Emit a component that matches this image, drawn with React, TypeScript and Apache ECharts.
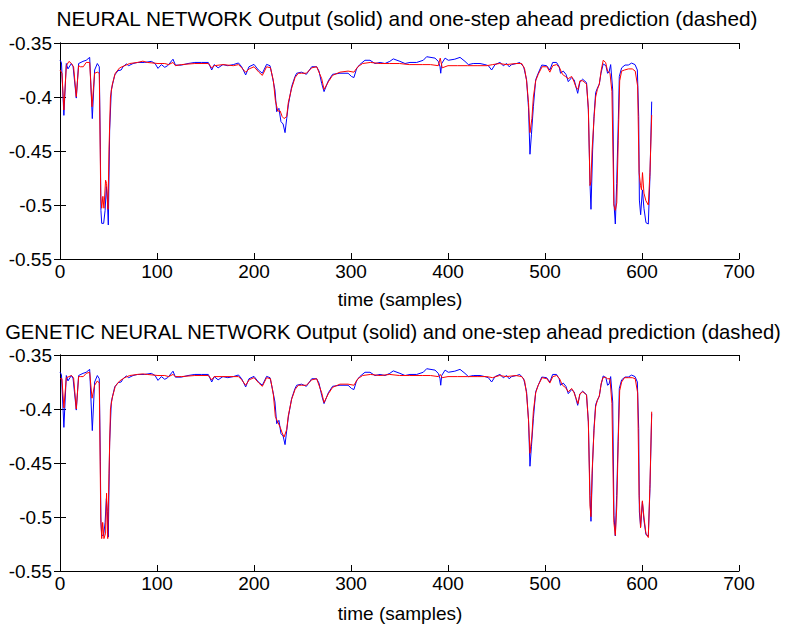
import { useEffect, useRef } from 'react';
import * as echarts from 'echarts';

const titleTop = 'NEURAL NETWORK Output (solid) and one-step ahead prediction (dashed)';
const titleBottom = 'GENETIC NEURAL NETWORK Output (solid) and one-step ahead prediction (dashed)';
const xAxisLabel = 'time (samples)';

const xMin = 0;
const xMax = 700;
const xStep = 100;
const yMin = -0.55;
const yMax = -0.35;
const yStep = 0.05;

// measured output (solid, blue) – same in both panels
const outputSeries: [number, number][] = [
  [0, -0.366], [1.5, -0.368], [4, -0.417], [6.5, -0.369], [8.2, -0.374], [11.7, -0.369], [13.5, -0.372],
  [16.8, -0.401], [19.2, -0.369], [23.7, -0.367], [27, -0.366], [30.6, -0.3633], [33.3, -0.42], [35.7, -0.375],
  [38.5, -0.369], [40.5, -0.372], [41.6, -0.449], [42.2, -0.505], [43, -0.517], [45, -0.517], [46.5, -0.505],
  [47.8, -0.483], [48.8, -0.495], [49.8, -0.5185], [51.2, -0.4306], [52.9, -0.3935], [56.4, -0.3796],
  [59.8, -0.3756], [63, -0.375], [65, -0.372], [68.4, -0.3694], [70.8, -0.371], [75.3, -0.369], [80, -0.368],
  [87.3, -0.368], [94.2, -0.367], [98, -0.369], [101, -0.3735], [104.5, -0.37], [108, -0.3725], [111, -0.371],
  [116.5, -0.365], [119, -0.3705], [125, -0.3705], [132, -0.369], [139, -0.368], [146, -0.368], [152.9, -0.368],
  [156.4, -0.375], [159, -0.37], [163, -0.373], [168, -0.37], [173, -0.371], [178.7, -0.37], [184, -0.3685],
  [187.3, -0.372], [191.4, -0.3796], [194.8, -0.372], [200, -0.3698], [204.5, -0.375], [208.6, -0.378],
  [213, -0.3698], [216.5, -0.371], [218.9, -0.381], [221.6, -0.3935], [223.4, -0.4136], [225.7, -0.4105],
  [227.8, -0.4228], [230, -0.425], [232, -0.433], [233.7, -0.42], [235.4, -0.4074], [238.8, -0.3904],
  [242.3, -0.381], [244, -0.378], [249, -0.377], [254, -0.379], [259.5, -0.372], [264.6, -0.372], [267, -0.376],
  [269.8, -0.3875], [272.2, -0.395], [276.6, -0.385], [281, -0.379], [288.6, -0.378], [297, -0.378],
  [300.5, -0.381], [303, -0.382], [305.7, -0.374], [309, -0.37], [314.4, -0.366], [319.6, -0.366],
  [324.7, -0.369], [330, -0.368], [335, -0.369], [340, -0.367], [343.6, -0.3647], [350.5, -0.367],
  [355.7, -0.369], [360.8, -0.368], [367.7, -0.368], [374.5, -0.366], [378, -0.3627], [386.6, -0.364],
  [390, -0.367], [391.8, -0.372], [392.5, -0.378], [393.5, -0.369], [397, -0.364], [400.3, -0.366],
  [407, -0.365], [412.4, -0.3633], [417.5, -0.367], [421, -0.37], [426, -0.369], [433, -0.369], [438, -0.37],
  [441.6, -0.371], [445, -0.375], [448.5, -0.37], [453.6, -0.368], [457, -0.371], [460.5, -0.369],
  [463, -0.372], [465.6, -0.37], [470.7, -0.369], [474, -0.368], [478, -0.372], [481, -0.384], [483, -0.41],
  [484.5, -0.453], [486, -0.435], [488, -0.409], [490.4, -0.384], [493, -0.378], [496.7, -0.3704],
  [501.7, -0.371], [505, -0.375], [507.9, -0.368], [511.9, -0.368], [514.6, -0.372], [516, -0.378],
  [518.8, -0.376], [521.6, -0.379], [524, -0.3858], [527.5, -0.382], [530, -0.384], [531.9, -0.3904],
  [533.7, -0.3966], [536, -0.386], [538.8, -0.3835], [542.8, -0.3867], [544.7, -0.412], [546.4, -0.48],
  [547.4, -0.504], [549.1, -0.449], [550.5, -0.418], [552.2, -0.396], [553.9, -0.392], [556, -0.388],
  [557.7, -0.378], [560, -0.3694], [562.8, -0.371], [564.5, -0.378], [566, -0.377], [567.7, -0.37],
  [569.8, -0.3935], [571.1, -0.4984], [572.5, -0.5176], [573.9, -0.48], [575.6, -0.421], [576.6, -0.381],
  [579, -0.373], [582.5, -0.3704], [585.9, -0.3704], [589.3, -0.3686], [592.8, -0.37], [595.2, -0.375],
  [596.6, -0.418], [597.3, -0.4954], [598.6, -0.509], [600.4, -0.486], [602, -0.503], [604.1, -0.5164],
  [606.5, -0.5176], [608.2, -0.4737], [610, -0.4043],
];

// one-step ahead prediction, neural network (dashed, red)
const predictionNN: [number, number][] = [
  [0, -0.375], [2, -0.378], [4, -0.412], [6.5, -0.371], [9.3, -0.367], [11.7, -0.369], [14, -0.372],
  [16.8, -0.3997], [19.2, -0.371], [21, -0.372], [24, -0.372], [27, -0.368], [30.6, -0.368], [33, -0.409],
  [35.7, -0.378], [38.5, -0.377], [40.5, -0.378], [42, -0.492], [43, -0.503], [44.2, -0.492], [45.3, -0.503],
  [47, -0.477], [48, -0.48], [49.5, -0.504], [50.5, -0.449], [52, -0.4], [54, -0.388], [57, -0.378],
  [61.5, -0.373], [66.7, -0.371], [71.8, -0.369], [80, -0.368], [85.4, -0.3668], [90, -0.368], [101, -0.369],
  [108, -0.369], [112, -0.37], [116.5, -0.368], [119, -0.371], [125, -0.37], [139, -0.369], [152.9, -0.369],
  [156.4, -0.373], [159, -0.371], [168, -0.37], [178.7, -0.371], [184, -0.37], [187.3, -0.373],
  [191.4, -0.377], [195, -0.374], [200, -0.372], [205, -0.377], [208.6, -0.38], [213, -0.372], [217, -0.373],
  [220, -0.385], [222, -0.403], [224.5, -0.413], [227, -0.413], [229, -0.418], [231, -0.42], [233.7, -0.418],
  [235.4, -0.405], [238.8, -0.392], [242.3, -0.382], [245.7, -0.378], [249, -0.378], [254, -0.378],
  [259.5, -0.373], [264.6, -0.372], [269.8, -0.383], [272.2, -0.393], [276.6, -0.386], [281, -0.38],
  [288.6, -0.377], [297, -0.376], [303, -0.377], [307, -0.372], [312, -0.369], [320, -0.368], [330, -0.369],
  [340, -0.369], [350, -0.369], [360, -0.37], [367, -0.37], [374, -0.37], [382, -0.37], [390, -0.371],
  [392, -0.364], [394, -0.373], [400, -0.371], [410, -0.371], [420, -0.371], [430, -0.371], [440, -0.371],
  [446, -0.37], [453, -0.369], [460, -0.37], [470, -0.369], [476, -0.369], [479, -0.374], [481, -0.385],
  [483, -0.405], [484.5, -0.433], [486.5, -0.42], [488, -0.4], [490.4, -0.385], [493, -0.379], [497, -0.372],
  [502, -0.372], [505, -0.377], [508, -0.371], [512, -0.37], [515, -0.373], [518, -0.379], [521, -0.381],
  [524, -0.383], [527.5, -0.381], [530, -0.386], [532, -0.391], [534, -0.393], [536, -0.385], [539, -0.385],
  [542.8, -0.388], [544.7, -0.41], [546.4, -0.482], [547.4, -0.478], [548.5, -0.45], [550.5, -0.42],
  [552.2, -0.4], [554, -0.393], [556, -0.388], [558, -0.375], [560, -0.366], [562.5, -0.368], [564.5, -0.376],
  [567, -0.378], [569, -0.395], [571, -0.5], [572.5, -0.505], [574, -0.498], [575.5, -0.44], [577, -0.385],
  [579, -0.376], [582, -0.375], [586, -0.374], [590, -0.374], [593, -0.376], [595.5, -0.39], [597, -0.47],
  [598.5, -0.482], [599.5, -0.486], [600.5, -0.47], [602, -0.489], [604, -0.496], [606.5, -0.5],
  [608.2, -0.47], [610, -0.4167],
];

// one-step ahead prediction, genetic neural network (dashed, red)
const predictionGNN: [number, number][] = [
  [0, -0.372], [2, -0.372], [4, -0.399], [6.5, -0.371], [9.3, -0.37], [11.7, -0.369], [14, -0.371],
  [16.8, -0.4], [19.2, -0.37], [21, -0.37], [24, -0.37], [27, -0.367], [30.6, -0.366], [33, -0.39],
  [35.7, -0.378], [38.5, -0.374], [40.5, -0.376], [42, -0.5], [43, -0.52], [44, -0.505], [45.3, -0.52],
  [47, -0.515], [48, -0.478], [49.2, -0.52], [50.5, -0.46], [52, -0.4], [54, -0.389], [57, -0.379],
  [61.5, -0.374], [66.7, -0.371], [71.8, -0.369], [80, -0.368], [85.4, -0.3675], [90, -0.368], [101, -0.369],
  [108, -0.369], [112, -0.37], [116.5, -0.368], [119, -0.37], [125, -0.37], [139, -0.369], [152.9, -0.369],
  [156.4, -0.373], [159, -0.37], [168, -0.37], [178.7, -0.37], [184, -0.37], [187.3, -0.373],
  [191.4, -0.378], [195, -0.373], [200, -0.371], [205, -0.376], [208.6, -0.379], [213, -0.371], [217, -0.372],
  [220, -0.387], [222, -0.407], [224.5, -0.412], [227, -0.417], [229, -0.422], [231, -0.426], [233.7, -0.419],
  [235.4, -0.406], [238.8, -0.391], [242.3, -0.382], [245.7, -0.378], [249, -0.378], [254, -0.378],
  [259.5, -0.373], [264.6, -0.372], [269.8, -0.385], [272.2, -0.394], [276.6, -0.386], [281, -0.38],
  [288.6, -0.377], [297, -0.377], [303, -0.378], [307, -0.372], [312, -0.369], [320, -0.368], [330, -0.369],
  [340, -0.368], [350, -0.369], [360, -0.369], [367, -0.369], [374, -0.369], [382, -0.369], [390, -0.37],
  [392, -0.368], [394, -0.371], [400, -0.37], [410, -0.37], [420, -0.37], [430, -0.37], [440, -0.37],
  [446, -0.371], [453, -0.369], [460, -0.37], [470, -0.369], [476, -0.37], [479, -0.374], [481, -0.386],
  [483, -0.41], [484.5, -0.441], [486.5, -0.425], [488, -0.402], [490.4, -0.385], [493, -0.378], [497, -0.371],
  [502, -0.372], [505, -0.376], [508, -0.37], [512, -0.369], [515, -0.372], [518, -0.378], [521, -0.38],
  [524, -0.384], [527.5, -0.381], [530, -0.385], [532, -0.39], [534, -0.395], [536, -0.386], [539, -0.384],
  [542.8, -0.387], [544.7, -0.412], [546.4, -0.49], [547.4, -0.4997], [548.5, -0.46], [550.5, -0.42],
  [552.2, -0.398], [554, -0.392], [556, -0.388], [558, -0.376], [560, -0.3707], [562.5, -0.3707],
  [564.5, -0.372], [567, -0.372], [569, -0.395], [571, -0.505], [572.5, -0.517], [574, -0.49], [575.5, -0.43],
  [577, -0.383], [579, -0.375], [582, -0.371], [586, -0.371], [590, -0.371], [593, -0.372], [595.5, -0.385],
  [597, -0.48], [598.5, -0.51], [600.4, -0.485], [602, -0.5], [604, -0.515], [606.5, -0.519],
  [608.2, -0.47], [610, -0.4025],
];

const FONT = '"Liberation Sans", Arial, Helvetica, sans-serif';
const FS = 19;
const FS_TITLE = 20.8;
const FS_TITLE_2 = 20.2;

export default function App() {
  const ref = useRef<HTMLDivElement>(null);
  useEffect(() => {
    document.body.style.margin = '0';
    if (!ref.current) return;
    const chart = echarts.init(ref.current, undefined, { renderer: 'svg' });

    const grids = [
      { left: 60, top: 43, width: 679, height: 216 },
      { left: 60, top: 355, width: 679, height: 216 },
    ];

    const lineStyle = { color: '#000', width: 1 };
    const tick = { show: true, inside: true, length: 6, lineStyle };
    const fmtY = (v: number) => String(Math.round(v * 100) / 100);

    const xAxes: any[] = [];
    const yAxes: any[] = [];
    grids.forEach((_, i) => {
      xAxes.push({
        type: 'value', gridIndex: i, position: 'bottom', min: xMin, max: xMax, interval: xStep,
        axisLine: { show: true, lineStyle }, axisTick: tick, splitLine: { show: false },
        axisLabel: { color: '#000', fontSize: FS, fontFamily: FONT, margin: 3 },
      });
      xAxes.push({
        type: 'value', gridIndex: i, position: 'top', min: xMin, max: xMax, interval: xStep,
        axisLine: { show: true, lineStyle }, axisTick: tick, splitLine: { show: false },
        axisLabel: { show: false },
      });
      yAxes.push({
        type: 'value', gridIndex: i, position: 'left', min: yMin, max: yMax, interval: yStep,
        axisLine: { show: true, lineStyle }, axisTick: tick, splitLine: { show: false },
        axisLabel: { color: '#000', fontSize: FS, fontFamily: FONT, margin: 8, formatter: fmtY },
      });
      yAxes.push({
        type: 'value', gridIndex: i, position: 'right', min: yMin, max: yMax, interval: yStep,
        axisLine: { show: true, lineStyle }, axisTick: tick, splitLine: { show: false },
        axisLabel: { show: false },
      });
    });

    const mk = (data: [number, number][], color: string, gi: number) => ({
      type: 'line', xAxisIndex: gi * 2, yAxisIndex: gi * 2, data, symbol: 'none',
      lineStyle: { color, width: 1 }, silent: true, z: color === '#ff0000' ? 3 : 2,
    });

    const textEl = (text: string, x: number, y: number, size: number) => ({
      type: 'text', x, y, silent: true,
      style: { text, align: 'center', verticalAlign: 'middle', fontSize: size, fontFamily: FONT, fill: '#000' },
    });

    chart.setOption({
      animation: false,
      backgroundColor: '#fff',
      grid: grids,
      xAxis: xAxes,
      yAxis: yAxes,
      series: [
        mk(outputSeries, '#0000ff', 0),
        mk(predictionNN, '#ff0000', 0),
        mk(outputSeries, '#0000ff', 1),
        mk(predictionGNN, '#ff0000', 1),
      ],
      graphic: [
        textEl(titleTop, 407, 18, FS_TITLE),
        textEl(xAxisLabel, 400, 299, FS),
        textEl(titleBottom, 393, 332, FS_TITLE_2),
        textEl(xAxisLabel, 400, 613, FS),
      ],
    });
    return () => chart.dispose();
  }, []);
  return <div ref={ref} style={{ width: 786, height: 629 }} />;
}
